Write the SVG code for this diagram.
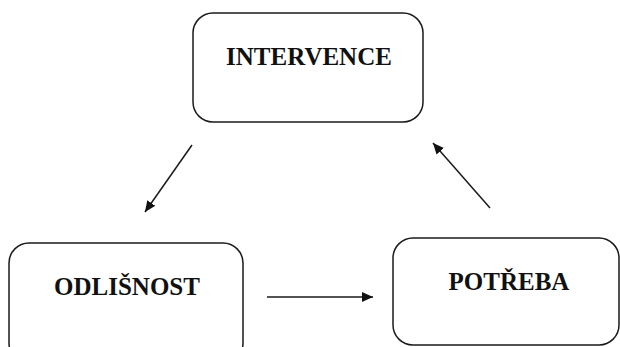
<svg xmlns="http://www.w3.org/2000/svg" width="620" height="347" viewBox="0 0 620 347">
  <style>
    .box { fill: #ffffff; stroke: #1a1a1a; stroke-width: 1.5; }
    .label { font-family: "Liberation Serif", "Times New Roman", serif; font-weight: bold; font-size: 25px; fill: #111111; text-anchor: middle; }
    .edge { stroke: #1a1a1a; stroke-width: 1.5; fill: none; marker-end: url(#arrow); }
  </style>
  <defs>
    <marker id="arrow" viewBox="0 0 10 10" refX="10" refY="5" markerWidth="11" markerHeight="11" markerUnits="userSpaceOnUse" orient="auto">
      <path d="M0,0.5 L10,5 L0,9.5 Z" fill="#111111"/>
    </marker>
  </defs>
  <rect width="620" height="347" fill="#ffffff"/>

  <g id="intervence">
    <rect class="box" x="193" y="13" width="230" height="109" rx="20" ry="20"/>
    <text class="label" x="309" y="65">INTERVENCE</text>
  </g>

  <g id="odlisnost">
    <rect class="box" x="9" y="243" width="234" height="120" rx="20" ry="20"/>
    <text class="label" x="127" y="295">ODLIŠNOST</text>
  </g>

  <g id="potreba">
    <rect class="box" x="393" y="238" width="226" height="107" rx="20" ry="20"/>
    <text class="label" x="509" y="290">POTŘEBA</text>
  </g>

  <g id="connectors">
    <line class="edge" x1="192" y1="145" x2="145" y2="212"/>
    <line class="edge" x1="267" y1="297" x2="373" y2="297"/>
    <line class="edge" x1="490" y1="208" x2="433" y2="143"/>
  </g>
</svg>
